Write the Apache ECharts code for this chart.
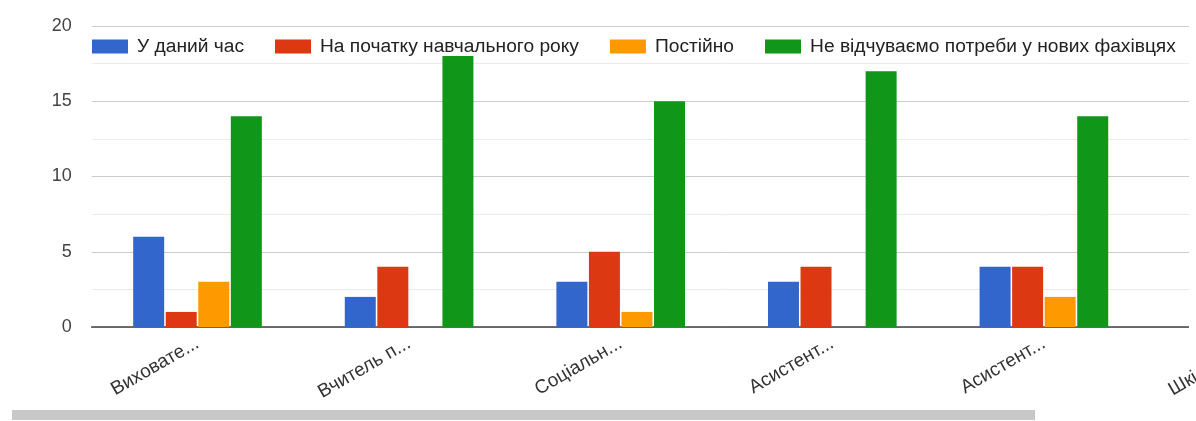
<!DOCTYPE html>
<html>
<head>
<meta charset="utf-8">
<script src="https://cdn.jsdelivr.net/npm/echarts@6/dist/echarts.min.js"></script>
<style>
html,body{margin:0;padding:0;background:#fff;overflow:hidden;width:1196px;height:421px;}
#chart{width:1400px;height:421px;}
</style>
</head>
<body>
<div id="chart"></div>
<script>
const categories = ['Виховате...', 'Вчитель п...', 'Соціальн...', 'Асистент...', 'Асистент...', 'Шкільний...'];
const seriesNames = ['У даний час', 'На початку навчального року', 'Постійно', 'Не відчуваємо потреби у нових фахівцях'];
const nowValues = [6, 2, 3, 3, 4, 0];
const startYearValues = [1, 4, 5, 4, 4, 0];
const permanentValues = [3, 0, 1, 0, 2, 0];
const noNeedValues = [14, 18, 15, 17, 14, 0];
const yTicks = [0, 5, 10, 15, 20];
const colors = ['#3366cc', '#dc3912', '#ff9900', '#109618'];

const font = 'Arial, "Liberation Sans", sans-serif';
const chart = echarts.init(document.getElementById('chart'), null, {renderer: 'canvas'});
const allValues = [nowValues, startYearValues, permanentValues, noNeedValues];

chart.setOption({
  animation: false,
  color: colors,
  grid: {left: 91.7, top: 26, width: 1269.6, height: 301},
  legend: {
    left: 92, top: 37, padding: 0,
    itemWidth: 36, itemHeight: 14, itemGap: 31,
    icon: 'rect',
    textStyle: {fontFamily: font, fontSize: 19.2, color: '#222', padding: [0, 0, 0, 4]},
    data: seriesNames
  },
  xAxis: {
    type: 'category',
    data: categories,
    axisTick: {show: false},
    axisLine: {lineStyle: {color: '#444', width: 1.5}},
    axisLabel: {rotate: 30, interval: 0, margin: 15, fontFamily: font, fontSize: 19, color: '#333'}
  },
  yAxis: {
    type: 'value',
    min: yTicks[0], max: yTicks[yTicks.length - 1], interval: 5,
    axisLine: {show: false},
    axisTick: {show: false},
    axisLabel: {margin: 20, fontFamily: font, fontSize: 18, color: '#444'},
    splitLine: {lineStyle: {color: '#cccccc', width: 1}},
    minorTick: {show: false, splitNumber: 2},
    minorSplitLine: {show: true, lineStyle: {color: '#ebebeb', width: 1}}
  },
  series: allValues.map((vals, i) => ({
    name: seriesNames[i],
    type: 'bar',
    data: vals,
    barWidth: 31,
    barGap: '5%',
    itemStyle: {color: colors[i]}
  })),
  graphic: [
    {type: 'rect', z: 100, shape: {x: 1189, y: 0, width: 220, height: 334}, style: {fill: '#fff'}},
    {type: 'rect', z: 100, shape: {x: 12, y: 410, width: 1023, height: 10}, style: {fill: '#c8c8c8'}}
  ]
});
</script>
</body>
</html>
